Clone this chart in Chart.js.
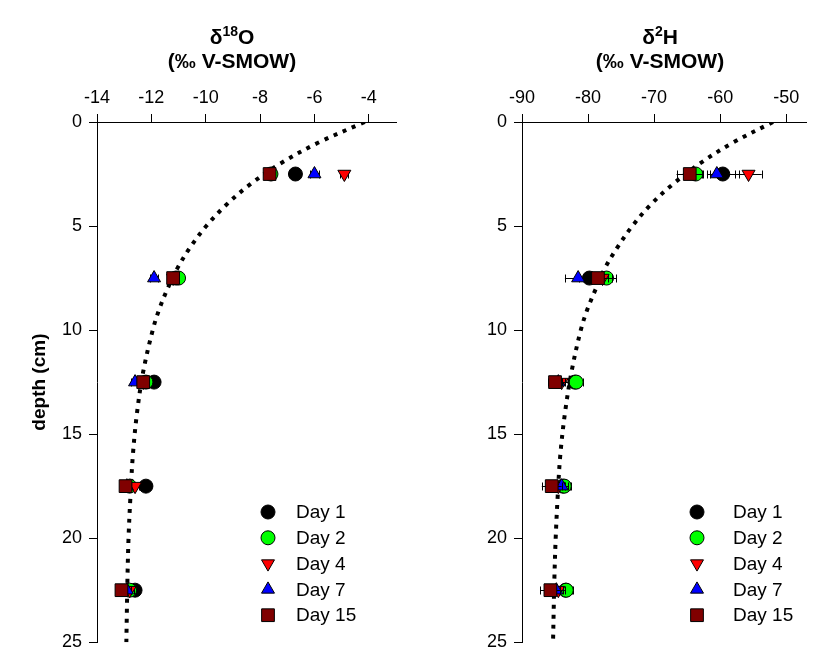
<!DOCTYPE html>
<html>
<head>
<meta charset="utf-8">
<script src="https://cdn.jsdelivr.net/npm/chart.js@4.4.1/dist/chart.umd.min.js"></script>
<style>
  body { margin: 0; background: #fff; font-family: Arial, "Liberation Sans", sans-serif; }
  #wrap { position: relative; width: 821px; height: 660px; overflow: hidden; }
  canvas { position: absolute; top: 0; }
  .ttl { position: absolute; width: 300px; text-align: center; font-weight: bold; font-size: 21px; line-height: 24px; color: #000; }
  .ttl sup { font-size: 14px; vertical-align: 8px; line-height: 0; }
</style>
</head>
<body>
<div id="wrap">
  <canvas id="chartO" width="410" height="660" style="left:0"></canvas>
  <canvas id="chartH" width="411" height="660" style="left:410px"></canvas>
  <div class="ttl" style="left:82px; top:25px">δ<sup>18</sup>O<br>(‰ V-SMOW)</div>
  <div class="ttl" style="left:510px; top:25px">δ<sup>2</sup>H<br>(‰ V-SMOW)</div>
</div>
<script>
// --- dados ---
const depths = [2.5, 7.5, 12.5, 17.5, 22.5];
const dayLabels = ['Day 1', 'Day 2', 'Day 4', 'Day 7', 'Day 15'];

// δ18O por dia
const day1O = [-6.7, -11.1, -11.9, -12.2, -12.6];
const day2O = [-7.6, -11.0, -12.2, -12.8, -12.8];
const day4O = [-4.9, -11.2, -12.3, -12.6, -12.8];
const day7O = [-6.0, -11.9, -12.6, -12.9, -12.9];
const day15O = [-7.65, -11.2, -12.3, -12.95, -13.1];
const errO = [0.15, 0.15, 0.15, 0.15, 0.15];

// δ2H por dia
const day1H = [-59.6, -79.8, -82.0, -83.8, -83.4];
const day2H = [-63.7, -77.2, -81.8, -83.6, -83.3];
const day4H = [-55.7, -77.8, -84.0, -84.5, -84.5];
const day7H = [-60.5, -81.5, -84.5, -84.0, -84.8];
const day15H = [-64.6, -78.5, -85.0, -85.5, -85.7];
const err1H = [2.4, 1.5, 1.0, 1.0, 1.0];
const err2H = [1.0, 1.5, 1.0, 1.0, 1.0];
const err4H = [2.0, 1.5, 1.0, 1.0, 1.0];
const err7H = [1.0, 2.0, 1.0, 1.0, 1.0];
const err15H = [2.0, 1.5, 1.0, 1.5, 1.5];

// curva ajustada
const curveDepth = [0, 1, 2, 3, 4, 5, 6, 7, 8, 9, 10, 12, 14, 16, 18, 20, 22, 25];
const curveO = [-4.15, -5.87, -7.26, -8.37, -9.26, -9.98, -10.56, -11.03, -11.40, -11.71, -11.95, -12.30, -12.53, -12.68, -12.77, -12.84, -12.88, -12.92];
const curveH = [-52.0, -58.1, -63.1, -67.2, -70.6, -73.3, -75.5, -77.4, -78.8, -80.1, -81.1, -82.5, -83.5, -84.2, -84.6, -84.9, -85.1, -85.3];

// ticks
const ticksO = [-14, -12, -10, -8, -6, -4];
const ticksH = [-90, -80, -70, -60, -50];
const ticksDepth = [0, 5, 10, 15, 20, 25];

// --- estilos ---
const FONT = 'Arial, "Liberation Sans", sans-serif';
const markerStyles = [
  { pointStyle: 'circle', color: '#000000', radius: 7, rotation: 0 },
  { pointStyle: 'circle', color: '#00ff00', radius: 7, rotation: 0 },
  { pointStyle: 'triangle', color: '#ff0000', radius: 7.5, rotation: 180 },
  { pointStyle: 'triangle', color: '#0000ff', radius: 7.5, rotation: 0 },
  { pointStyle: 'rect', color: '#800000', radius: 9, rotation: 0 }
];

const toPoints = (xs, ys) => xs.map((x, i) => ({ x: x, y: ys[i] }));

// barras de erro horizontais, desenhadas antes dos pontos de cada série
const errorBars = {
  id: 'errorBars',
  beforeDatasetDraw(chart, args) {
    const ds = chart.data.datasets[args.index];
    if (!ds.errors) return;
    const ctx = chart.ctx;
    const xs = chart.scales.x, ys = chart.scales.y;
    ctx.save();
    ctx.strokeStyle = '#000';
    ctx.lineWidth = 1;
    ds.data.forEach((p, i) => {
      const e = ds.errors[i];
      const x0 = xs.getPixelForValue(p.x - e), x1 = xs.getPixelForValue(p.x + e);
      const y = Math.round(ys.getPixelForValue(p.y)) + 0.5;
      ctx.beginPath();
      ctx.moveTo(x0, y); ctx.lineTo(x1, y);
      ctx.moveTo(Math.round(x0) + 0.5, y - 4); ctx.lineTo(Math.round(x0) + 0.5, y + 4);
      ctx.moveTo(Math.round(x1) + 0.5, y - 4); ctx.lineTo(Math.round(x1) + 0.5, y + 4);
      ctx.stroke();
    });
    ctx.restore();
  }
};

// marcador no estilo do gráfico
const drawMarker = (ctx, st, x, y) => {
  ctx.save();
  ctx.fillStyle = st.color;
  ctx.strokeStyle = '#000';
  ctx.lineWidth = 1;
  ctx.beginPath();
  if (st.pointStyle === 'circle') {
    ctx.arc(x, y, st.radius, 0, Math.PI * 2);
  } else if (st.pointStyle === 'rect') {
    const s = st.radius * Math.SQRT1_2;
    ctx.rect(x - s, y - s, 2 * s, 2 * s);
  } else {
    const r = st.radius, dir = st.rotation === 180 ? -1 : 1;
    ctx.moveTo(x, y - dir * r);
    ctx.lineTo(x + r * 0.866, y + dir * r * 0.5);
    ctx.lineTo(x - r * 0.866, y + dir * r * 0.5);
    ctx.closePath();
  }
  ctx.fill();
  ctx.stroke();
  ctx.restore();
};

const legendBox = {
  id: 'legendBox',
  afterDraw(chart, args, opts) {
    const ctx = chart.ctx;
    ctx.save();
    ctx.font = '19px ' + FONT;
    ctx.fillStyle = '#000';
    ctx.textBaseline = 'middle';
    dayLabels.forEach((lbl, i) => {
      const y = opts.top + i * opts.step;
      drawMarker(ctx, markerStyles[i], opts.markerX, y);
      ctx.fillText(lbl, opts.textX, y + 1);
    });
    ctx.restore();
  }
};

const buildChart = (canvasId, cfg) => {
  const seriesDatasets = cfg.series.map((vals, i) => {
    const st = markerStyles[i];
    return {
      label: dayLabels[i],
      data: toPoints(vals, depths),
      errors: cfg.errors[i],
      pointStyle: st.pointStyle,
      rotation: st.rotation,
      pointRadius: st.radius,
      pointHoverRadius: st.radius,
      backgroundColor: st.color,
      borderColor: '#000',
      pointBorderWidth: 1,
      showLine: false,
      order: 5 - i
    };
  });

  return new Chart(document.getElementById(canvasId), {
    type: 'scatter',
    data: {
      datasets: [
        {
          label: 'fit',
          data: toPoints(cfg.curve, curveDepth),
          showLine: true,
          pointRadius: 0,
          borderColor: '#000',
          borderWidth: 4,
          borderDash: [4, 6],
          borderCapStyle: 'butt',
          tension: 0.35,
          fill: false,
          order: 10
        },
        ...seriesDatasets
      ]
    },
    options: {
      responsive: false,
      animation: false,
      devicePixelRatio: 1,
      layout: { padding: { top: 0, left: 0, right: cfg.padRight, bottom: 14 } },
      plugins: {
        legend: { display: false },
        tooltip: { enabled: false },
        legendBox: cfg.legend
      },
      scales: {
        x: {
          type: 'linear',
          position: 'top',
          min: cfg.xMin,
          max: cfg.xMax,
          afterBuildTicks: (s) => { s.ticks = cfg.xTicks.map(v => ({ value: v })); },
          afterFit: (s) => { s.height = 122; },
          ticks: { color: '#000', font: { size: 18, family: FONT }, padding: 5, maxRotation: 0, callback: (v) => String(v) },
          grid: { drawOnChartArea: false, tickLength: 8, tickColor: '#000', color: '#000' },
          border: { display: true, color: '#000', width: 1 }
        },
        y: {
          type: 'linear',
          reverse: true,
          min: 0,
          max: 25,
          afterBuildTicks: (s) => { s.ticks = ticksDepth.map(v => ({ value: v })); },
          afterFit: (s) => { s.width = cfg.yWidth; },
          ticks: { color: '#000', font: { size: 18, family: FONT }, padding: 7, callback: (v) => String(v) },
          title: {
            display: cfg.showTitle,
            text: 'depth (cm)',
            color: '#000',
            font: { size: 19, weight: 'bold', family: FONT },
            padding: { top: 28, bottom: 0 }
          },
          grid: { drawOnChartArea: false, tickLength: 8, tickColor: '#000', color: '#000' },
          border: { display: true, color: '#000', width: 1 }
        }
      }
    },
    plugins: [errorBars, legendBox]
  });
};

buildChart('chartO', {
  series: [day1O, day2O, day4O, day7O, day15O],
  errors: [errO, errO, errO, errO, errO],
  curve: curveO,
  xMin: -14, xMax: -3, xTicks: ticksO,
  yWidth: 97, padRight: 14, showTitle: true,
  legend: { markerX: 268, textX: 296, top: 512, step: 25.8 }
});

buildChart('chartH', {
  series: [day1H, day2H, day4H, day7H, day15H],
  errors: [err1H, err2H, err4H, err7H, err15H],
  curve: curveH,
  xMin: -90, xMax: -47, xTicks: ticksH,
  yWidth: 112, padRight: 15, showTitle: false,
  legend: { markerX: 287, textX: 323, top: 512, step: 25.8 }
});
</script>
</body>
</html>
